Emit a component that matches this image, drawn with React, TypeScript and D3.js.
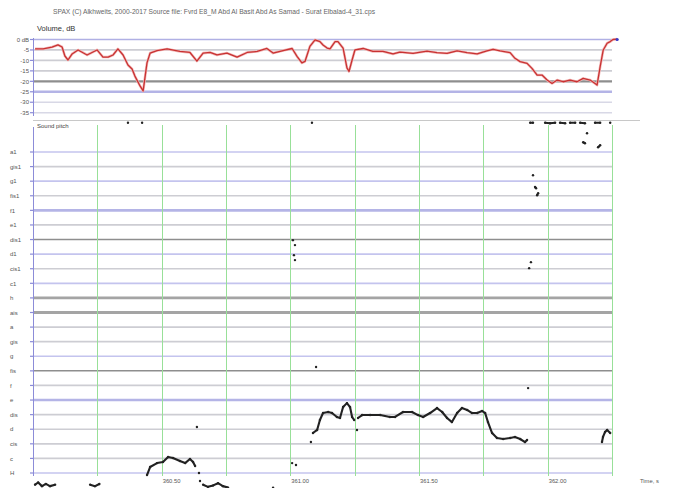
import React from "react";
import * as d3 from "d3";

// Volume envelope (time in s, level in dB)
const volTime = [
  360.008, 360.039, 360.074, 360.097, 360.113, 360.124, 360.136, 360.152, 360.175, 360.21,
  360.249, 360.272, 360.292, 360.311, 360.33, 360.35, 360.369, 360.385, 360.396, 360.416,
  360.428, 360.443, 360.455, 360.482, 360.521, 360.571, 360.61, 360.637, 360.661, 360.688,
  360.715, 360.754, 360.793, 360.832, 360.871, 360.909, 360.933, 360.972, 361.007, 361.026,
  361.045, 361.057, 361.076, 361.096, 361.115, 361.127, 361.143, 361.154, 361.174, 361.185,
  361.205, 361.22, 361.228, 361.24, 361.251, 361.283, 361.321, 361.36, 361.399, 361.426,
  361.477, 361.531, 361.57, 361.609, 361.648, 361.687, 361.726, 361.764, 361.788, 361.815,
  361.854, 361.873, 361.893, 361.92, 361.939, 361.959, 361.978, 361.998, 362.017, 362.037,
  362.06, 362.087, 362.114, 362.138, 362.165, 362.184, 362.192, 362.204, 362.216, 362.231,
  362.243, 362.254, 362.27,
];
const volDb = [
  -4.5, -4.5, -3.6, -2.6, -3.6, -7.9, -9.8, -6.9, -5.0, -7.4,
  -5.0, -8.4, -8.4, -7.4, -4.5, -7.4, -12.2, -14.1, -17.5, -22.2,
  -24.6, -11.2, -6.5, -5.3, -4.5, -5.7, -6.2, -10.3, -6.5, -6.2,
  -7.4, -6.5, -8.4, -6.2, -5.7, -4.3, -6.5, -5.3, -4.3, -8.1,
  -11.2, -10.5, -3.3, -0.2, -1.0, -2.6, -4.1, -4.5, -1.0, -1.0,
  -4.1, -13.6, -15.3, -9.8, -5.0, -4.3, -5.7, -5.7, -6.9, -6.0,
  -6.6, -5.6, -6.3, -6.6, -5.4, -6.3, -6.9, -5.4, -4.7, -5.4,
  -6.3, -9.0, -10.6, -11.4, -13.8, -17.0, -17.0, -19.4, -21.0, -19.4,
  -20.2, -19.4, -20.2, -18.6, -19.4, -21.0, -21.8, -13.0, -5.0, -1.8,
  -1.0, 0, 0.2,
];

// Pitch track (time in s, MIDI note number); null separates voiced fragments
const pitchTime = [
  360.008, 360.02, 360.035, 360.05, 360.066, 360.086, null,
  360.222, 360.241, 360.258, null,
  360.369, null, 360.424, null,
  360.443, 360.455, 360.482, 360.505, 360.525, 360.544, 360.571, 360.591, 360.61, 360.622, 360.63, null,
  360.637, null, 360.645, null, 360.649, null,
  360.661, 360.68, 360.7, 360.719, 360.738, 360.758, null,
  360.933, null, 361.007, null, 361.022, null,
  361.01, null, 361.018, null, 361.014, null, 361.018, null,
  361.08, null, 361.084, null, 361.1, null,
  361.088, 361.104, 361.115, 361.127, 361.147, 361.162, 361.181, 361.193, 361.205, 361.22,
  361.232, 361.24, 361.248, null,
  361.259, null,
  361.263, 361.279, 361.31, 361.349, 361.387, 361.407, 361.438, 361.473, 361.496, 361.516,
  361.543, 361.57, 361.59, 361.609, 361.628, 361.648, 361.667, 361.687, 361.706, 361.726,
  361.745, 361.757, 361.768, 361.784, 361.803, 361.827, 361.854, 361.873, 361.893, 361.912,
  361.92, null,
  361.924, null,
  361.943, null, 361.951, 361.955, null, 361.959, 361.963, null,
  361.935, null, 361.928, null,
  361.932, 361.943, null, 361.99, 362.009, 362.029, null, 362.048, 362.068, null,
  362.087, 362.107, null, 362.126, 362.145, null, 362.184, 362.204, null, 362.243, null,
  362.153, null, 362.138, 362.145, null, 362.196, 362.204, null,
  362.211, 362.215, 362.223, 362.231, 362.243, null,
];
const pitchNote = [
  46.2, 46.35, 46.1, 46.25, 46.1, 46.2, null,
  46.2, 46.1, 46.25, null,
  71.0, null, 71.0, null,
  46.86, 47.41, 47.68, 47.75, 48.1, 48.03, 47.82, 47.68, 47.96, 47.75, 47.48, null,
  50.15, null, 47.0, null, 46.45, null,
  46.2, 46.05, 46.15, 46.3, 46.1, 46.0, null,
  46.0, null, 47.68, null, 47.55, null,
  62.96, null, 62.62, null, 61.93, null, 61.59, null,
  49.12, null, 71.0, null, 54.26, null,
  49.74, 49.95, 50.63, 51.11, 51.18, 51.11, 50.84, 50.77, 51.52, 51.79,
  51.52, 50.84, 50.63, null,
  49.95, null,
  50.77, 50.97, 50.97, 50.97, 50.84, 50.84, 51.18, 51.18, 50.97, 50.84,
  51.11, 51.45, 51.18, 50.77, 50.49, 51.11, 51.45, 51.32, 51.11, 51.11,
  51.25, 51.11, 50.49, 49.74, 49.4, 49.33, 49.4, 49.47, 49.33, 49.12,
  49.26, null,
  52.82, null,
  67.41, null, 66.6, 66.52, null, 66.04, 66.18, null,
  61.45, null, 61.04, null,
  71.0, 71.0, null, 71.0, 70.97, 71.0, null, 71.0, 70.97, null,
  71.0, 71.0, null, 71.0, 70.97, null, 71.0, 71.0, null, 71.0, null,
  70.29, null, 69.67, 69.6, null, 69.33, 69.47, null,
  49.12, 49.47, 49.81, 49.95, 49.74, null,
];

// Note names on the pitch axis, MIDI 47 (H) upward to 69 (a1)
const noteNames = [
  "H", "c", "cis", "d", "dis", "e", "f", "fis", "g", "gis", "a", "ais",
  "h", "c1", "cis1", "d1", "dis1", "e1", "f1", "fis1", "g1", "gis1", "a1",
];
const noteLineKinds = [
  "blue", "gray", "gray", "gray", "gray", "blueThick", "gray", "dark", "blue", "gray", "gray", "darkThick",
  "darkThick", "blue", "gray", "blue", "dark", "gray", "blueThick", "gray", "blue", "gray", "blue",
];

const dbTicks = [0, -5, -10, -15, -20, -25, -30, -35];
const dbTickLabels = ["0 dB", "-5", "-10", "-15", "-20", "-25", "-30", "-35"];
const dbLineKinds = ["blueThin", "gray", "gray", "gray", "darkMid", "blueThick", "light", "light"];

const gridTimes = [360.25, 360.5, 360.75, 361.0, 361.25, 361.5, 361.75, 362.0, 362.25];
const timeLabelValues = [360.5, 361.0, 361.5, 362.0];
const timeLabels = ["360.50", "361.00", "361.50", "362.00"];

const lineStyles: Record<string, { stroke: string; width: number }> = {
  blue: { stroke: "#c4c4ee", width: 1.7 },
  blueThin: { stroke: "#b0b0e4", width: 1.3 },
  blueThick: { stroke: "#b4b4e6", width: 2.6 },
  gray: { stroke: "#cdcdd3", width: 1.7 },
  light: { stroke: "#d8d8e6", width: 1.4 },
  dark: { stroke: "#8e8e8e", width: 1.5 },
  darkMid: { stroke: "#8e8e8e", width: 2.2 },
  darkThick: { stroke: "#a4a4a4", width: 2.8 },
};

const FONT = "'Liberation Sans', Arial, sans-serif";

export default function App() {
  const W = 675;
  const H = 488;
  const left = 33;
  const right = 612;

  const x = d3.scaleLinear().domain([360, 362.25]).range([left, right]);
  const yVol = d3.scaleLinear().domain([0, -35]).range([39.5, 112.7]);
  const yPitch = d3.scaleLinear().domain([47, 69]).range([473, 152]);

  const volIdx = d3.range(volTime.length);
  const volPath = d3
    .line<number>()
    .x((i) => x(volTime[i]))
    .y((i) => yVol(volDb[i]))(volIdx) as string;

  const pIdx = d3.range(pitchTime.length);
  const pitchPath = d3
    .line<number>()
    .defined((i) => pitchTime[i] != null && pitchNote[i] != null)
    .x((i) => x(pitchTime[i] as number))
    .y((i) => yPitch(pitchNote[i] as number))(pIdx) as string;
  const pitchPts = pIdx.filter((i) => pitchTime[i] != null && pitchNote[i] != null);

  const axisColor = "#8c8cd8";
  const pitchTop = 125;
  const pitchBottom = 476;
  const crisp = (v: number) => Math.round(v) + 0.5;

  return (
    <svg
      width={W}
      height={H}
      style={{ position: "absolute", left: 0, top: 0, background: "#fff" }}
      fontFamily={FONT}
    >
      <rect width={W} height={H} fill="#fff" />

      {/* header */}
      <text x={53} y={14} fontSize={6.3} fill="#666" textLength={322} lengthAdjust="spacingAndGlyphs">
        SPAX  (C) Alkhweits, 2000-2017   Source file: Fvrd E8_M Abd Al Basit Abd As Samad - Surat Elbalad-4_31.cps
      </text>
      <text x={37} y={31} fontSize={7.5} fill="#333">Volume, dB</text>

      {/* volume grid */}
      {dbTicks.map((d, i) => {
        const s = lineStyles[dbLineKinds[i]];
        return (
          <g key={"db" + d}>
            <line x1={left} x2={right} y1={yVol(d)} y2={yVol(d)} stroke={s.stroke} strokeWidth={s.width} />
            <line x1={left - 3} x2={left} y1={yVol(d)} y2={yVol(d)} stroke={axisColor} strokeWidth={1.2} />
            <text x={29} y={yVol(d) + 2.2} fontSize={6} fill="#555" textAnchor="end">
              {dbTickLabels[i]}
            </text>
          </g>
        );
      })}
      <line x1={crisp(left)} x2={crisp(left)} y1={38} y2={116} stroke={axisColor} strokeWidth={1} />
      <line x1={left} x2={640} y1={120.5} y2={120.5} stroke="#c8c8c8" strokeWidth={1} />

      {/* volume curve */}
      <path d={volPath} fill="none" stroke="#f2b8b8" strokeWidth={2.6} strokeLinejoin="round" />
      <path d={volPath} fill="none" stroke="#c83232" strokeWidth={1.3} strokeLinejoin="round" />
      <circle cx={x(volTime[volTime.length - 1])} cy={yVol(0)} r={1.6} fill="#3a3ac8" />

      {/* pitch panel */}
      <text x={37} y={128} fontSize={6} fill="#444">Sound pitch</text>
      {noteNames.map((n, i) => {
        const m = 47 + i;
        const s = lineStyles[noteLineKinds[i]];
        return (
          <g key={"n" + n}>
            <line x1={left} x2={right} y1={yPitch(m)} y2={yPitch(m)} stroke={s.stroke} strokeWidth={s.width} />
            <line x1={left - 3} x2={left} y1={yPitch(m)} y2={yPitch(m)} stroke={axisColor} strokeWidth={1.2} />
            <text x={10} y={yPitch(m) + 2.2} fontSize={6} fill="#555">
              {n}
            </text>
          </g>
        );
      })}
      {gridTimes.map((t) => (
        <line
          key={"g" + t}
          x1={crisp(x(t))}
          x2={crisp(x(t))}
          y1={pitchTop}
          y2={pitchBottom}
          stroke="#98e098"
          strokeWidth={1}
        />
      ))}
      <line x1={crisp(left)} x2={crisp(left)} y1={pitchTop + 2} y2={pitchBottom} stroke={axisColor} strokeWidth={1} />

      {/* pitch track */}
      <path d={pitchPath} fill="none" stroke="#222" strokeWidth={2.1} strokeLinejoin="round" />
      {pitchPts.map((i) => (
        <circle key={"p" + i} cx={x(pitchTime[i] as number)} cy={yPitch(pitchNote[i] as number)} r={1.2} fill="#222" />
      ))}

      {/* time axis */}
      {timeLabelValues.map((t, i) => (
        <text key={"t" + t} x={x(t) + 1} y={483} fontSize={5.8} fill="#555">
          {timeLabels[i]}
        </text>
      ))}
      <text x={640} y={483} fontSize={5.8} fill="#555">Time, s</text>
    </svg>
  );
}
